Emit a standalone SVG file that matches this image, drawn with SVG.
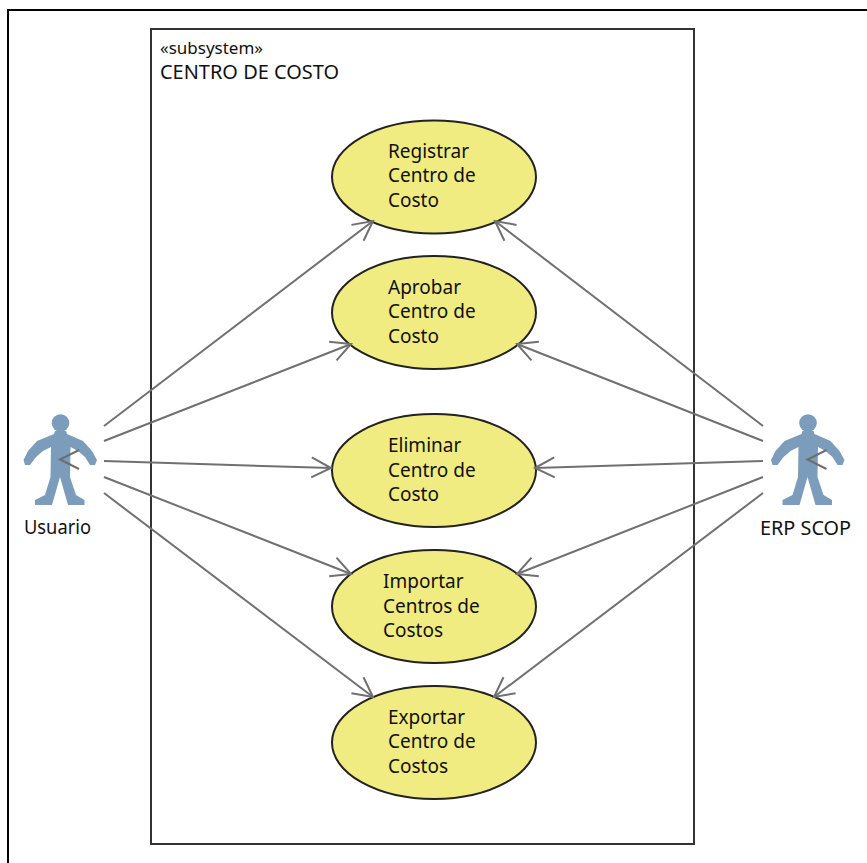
<svg xmlns="http://www.w3.org/2000/svg" width="867" height="863" viewBox="0 0 867 863">
<style>
text{font-family:"Noto Sans","DejaVu Sans",sans-serif;font-size:19px;fill:#111}
.uc{fill:#f0ec82;stroke:#222;stroke-width:2}
.conn{fill:none;stroke:#707070;stroke-width:2;marker-end:url(#open)}
.body{fill:#7b9cbb}
.chev{fill:none;stroke:#6e6e6e;stroke-width:2}
</style>
<defs>
<marker id="open" markerUnits="userSpaceOnUse" markerWidth="30" markerHeight="30" refX="21" refY="15" orient="auto" overflow="visible">
<path d="M1.500,5 L21,15 L1.500,25" fill="none" stroke="#707070" stroke-width="2"/>
</marker>
<g id="actor">
<circle class="body" cx="60.500" cy="423" r="8.800"/>
<path class="body" d="M55,431 L66,431 L67,434 L83,441 L92,451 L97,460 L95,465 L90,465 L85,457 L78,451 L70.500,447 L70,477 L76,495 L84.500,500 L84.500,505 L68,505 L60,477 L52,505 L35,505 L35,500 L45,495 L50.500,477 L51,447 L43,451 L36,457 L30,465 L25,465 L23.500,460 L28,451 L37,441 L54,434Z"/>
<path class="chev" d="M79,450 L60,459.500 L79,469"/>
</g>
</defs>
<rect width="867" height="863" fill="#fff"/>
<path d="M8,863 V10 H867" fill="none" stroke="#000" stroke-width="2"/>
<g id="subsystem">
<rect x="151" y="29" width="543" height="815" fill="#fff" stroke="#333" stroke-width="2"/>
<text x="160" y="54" style="font-size:17px">«subsystem»</text>
<text x="160" y="79" textLength="179" lengthAdjust="spacingAndGlyphs">CENTRO DE COSTO</text>
</g>
<g id="uc1"><ellipse class="uc" cx="434" cy="177" rx="102" ry="56.500"/>
<text x="388" y="158">Registrar</text><text x="388" y="182">Centro de</text><text x="388" y="207">Costo</text></g>
<g id="uc2"><ellipse class="uc" cx="434" cy="312.500" rx="102" ry="56.500"/>
<text x="388" y="294">Aprobar</text><text x="388" y="318">Centro de</text><text x="388" y="343">Costo</text></g>
<g id="uc3"><ellipse class="uc" cx="434" cy="470.500" rx="102" ry="56.500"/>
<text x="388" y="452">Eliminar</text><text x="388" y="477">Centro de</text><text x="388" y="501">Costo</text></g>
<g id="uc4"><ellipse class="uc" cx="434" cy="606.500" rx="102" ry="56.500"/>
<text x="383" y="588">Importar</text><text x="383" y="613">Centros de</text><text x="383" y="637">Costos</text></g>
<g id="uc5"><ellipse class="uc" cx="434" cy="742.500" rx="102" ry="56.500"/>
<text x="388" y="724">Exportar</text><text x="388" y="748">Centro de</text><text x="388" y="773">Costos</text></g>
<g id="usuario"><use href="#actor"/><text x="24" y="534" textLength="67" lengthAdjust="spacingAndGlyphs">Usuario</text></g>
<g id="erp"><use href="#actor" x="747.500"/><text x="760" y="535" textLength="91" lengthAdjust="spacingAndGlyphs">ERP SCOP</text></g>
<g id="connectors">
<path class="conn" d="M104,426 L373,221"/>
<path class="conn" d="M104,441 L351,344"/>
<path class="conn" d="M104,461 L331,468"/>
<path class="conn" d="M104,477 L351,574"/>
<path class="conn" d="M104,493 L373,697"/>
<path class="conn" d="M763,426 L495,221"/>
<path class="conn" d="M763,441 L517,344"/>
<path class="conn" d="M763,461 L535,468"/>
<path class="conn" d="M763,477 L517,574"/>
<path class="conn" d="M763,493 L494,697"/>
</g>
</svg>
